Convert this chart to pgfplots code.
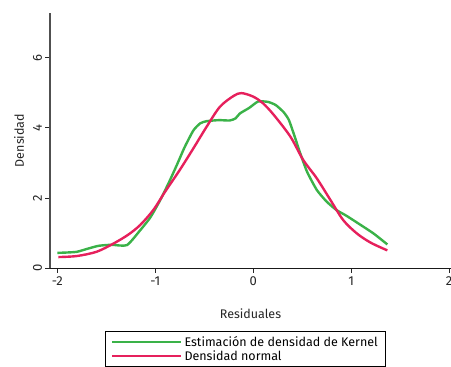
\documentclass[border=0pt]{standalone}
\usepackage{pgfplots}
\pgfplotsset{compat=1.18}
\usepackage{fontspec}
\setmainfont{Fira Sans}
\definecolor{kgreen}{RGB}{58,178,72}
\definecolor{nred}{RGB}{230,32,92}
\definecolor{axgray}{RGB}{80,80,80}
\begin{document}
\begin{tikzpicture}
\begin{axis}[
  name=ax,
  scale only axis,
  width=401pt, height=255.6pt,
  xmin=-2.075, xmax=2.02,
  ymin=0, ymax=7.28,
  axis x line*=bottom, axis y line*=left,
  axis line style={axgray, line width=1.3pt},
  x axis line style={black!90, line width=1.1pt},
  tick style={black!85, line width=0.8pt},
  tick align=outside,
  major tick length=4.5pt,
  xtick={-2,-1,0,1,2},
  ytick={0,2,4,6},
  /pgf/number format/assume math mode=true,
  ticklabel style={font=\fontsize{13}{15}\selectfont, text=black!85},
  yticklabel style={rotate=90, anchor=south},
  xlabel={Residuales},
  ylabel={Densidad},
  label style={font=\fontsize{12.5}{15}\selectfont, text=black!85},
  xlabel style={yshift=-17pt},
  ylabel style={yshift=2pt},
  legend style={at={(0.4875,-0.245)}, anchor=north, draw=black, line width=0.8pt,
    font=\fontsize{12.5}{14}\selectfont, row sep=-1.5pt, inner xsep=6pt, inner ysep=3pt,
    legend cell align=left},
  legend image code/.code={\draw[#1, line width=2.4pt] (0pt,0pt) -- (69pt,0pt);},
]
\addplot[kgreen, line width=2.4pt, smooth, tension=0.35] coordinates {
(-2.0,0.44) (-1.9,0.45) (-1.80,0.47) (-1.7,0.55) (-1.58,0.64) (-1.45,0.67) (-1.29,0.66)
(-1.155,1.08) (-1.05,1.45) (-0.95,1.94) (-0.86,2.45) (-0.78,2.94) (-0.7,3.45) (-0.61,3.93)
(-0.54,4.13) (-0.476,4.19) (-0.35,4.22) (-0.24,4.21) (-0.18,4.27) (-0.136,4.41) (-0.04,4.57)
(0.05,4.75) (0.15,4.74) (0.23,4.65) (0.31,4.45) (0.36,4.25) (0.39,4.03) (0.43,3.70)
(0.48,3.28) (0.55,2.75) (0.65,2.23) (0.75,1.90) (0.85,1.66) (0.95,1.50) (1.10,1.23)
(1.23,0.99) (1.37,0.68)};
\addplot[nred, line width=2.4pt, smooth, tension=0.5] coordinates {
(-1.99,0.32) (-1.80,0.35) (-1.60,0.47) (-1.43,0.70) (-1.28,0.95) (-1.155,1.23) (-1.02,1.66)
(-0.90,2.18) (-0.75,2.80) (-0.61,3.42) (-0.476,4.03) (-0.34,4.60) (-0.20,4.91) (-0.12,4.99)
(0.0,4.89) (0.10,4.70) (0.21,4.37) (0.38,3.75) (0.51,3.09) (0.65,2.56) (0.79,1.94)
(0.92,1.37) (1.06,0.99) (1.20,0.73) (1.37,0.51)};
\legend{Estimación de densidad de Kernel, Densidad normal}
\end{axis}
\pgfresetboundingbox
\path ([xshift=-50pt,yshift=-97.7pt]ax.south west) rectangle ([yshift=12.7pt]ax.north east);
\end{tikzpicture}
\end{document}
